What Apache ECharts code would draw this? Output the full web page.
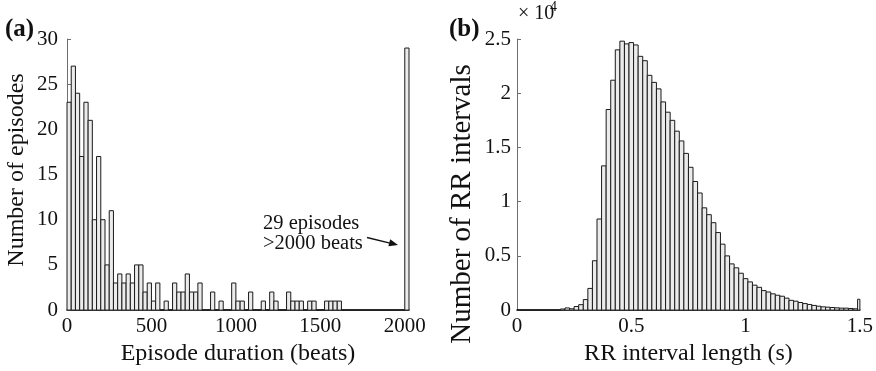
<!DOCTYPE html>
<html>
<head>
<meta charset="utf-8">
<script src="https://cdn.jsdelivr.net/npm/echarts@6/dist/echarts.min.js"></script>
<style>
  html, body { margin: 0; padding: 0; background: #fff; }
  #chart { width: 876px; height: 371px; }
</style>
</head>
<body>
<div id="chart"></div>
<script>
// (a) episode durations: 25-beat bins from 0, the last bin holds episodes >2000 beats
const durationBinWidth = 25;
const episodeCounts = [
  23, 27, 24, 17, 23, 21, 10, 17, 10, 5, 11,
  3, 4, 3, 4, 3, 5, 5,
  2, 3, 1, 3, 0, 1, 0,
  3, 2, 2, 4, 2, 2, 3,
  0, 0, 2, 0, 1, 0, 0,
  3, 1, 1, 0, 2, 0, 0,
  1, 0, 2, 1, 0, 0,
  2, 1, 1, 1, 0, 1, 1,
  0, 0,
  1, 1, 1, 1,
  0, 0, 0, 0, 0, 0, 0, 0, 0, 0, 0, 0, 0, 0, 0,
  29
];
const durationTicks = [0, 500, 1000, 1500, 2000];

// (b) RR interval lengths: 0.02 s bins centred on 0, 0.02, ..., 1.5
const rrBinWidth = 0.02;
const rrCounts = [
  0, 0, 0, 0, 0, 0, 0, 0, 0, 0,
  100, 200, 120, 330, 500, 970, 2000, 4550, 8400, 13300,
  18500, 21200, 24000, 24800, 24550, 24670, 24450, 23400, 23000, 21650,
  21000, 20400, 19200, 18250, 17500, 16500, 15600, 14450, 13170, 11860,
  10800, 9430, 8800, 8060, 7150, 6080, 5000, 4260, 3900, 3400,
  2900, 2600, 2300, 2100, 1800, 1670, 1500, 1370, 1280, 1100,
  900, 820, 700, 600, 520, 430, 360, 300, 270, 240,
  210, 180, 180, 150, 120, 1000
];
const rrTicks = [0, 0.5, 1, 1.5];

const FONT = '"Liberation Serif", "DejaVu Serif", serif';
const BAR_FILL = '#ebebeb';
const BAR_EDGE = '#1a1a1a';
const AXIS_COLOR = '#6e6e6e';
const TEXT = '#111';

const chart = echarts.init(document.getElementById('chart'));

// one rectangle per bin, from its left edge to left edge + bin width
function histBar(binWidth) {
  return function (params, api) {
    const x0 = api.value(0);
    const h = api.value(1);
    const pTop = api.coord([x0, h]);
    const pBot = api.coord([x0 + binWidth, 0]);
    const shape = echarts.graphic.clipRectByRect({
      x: pTop[0],
      y: pTop[1],
      width: pBot[0] - pTop[0],
      height: pBot[1] - pTop[1],
    }, params.coordSys);
    if (!shape) return null;
    return {
      type: 'rect',
      shape: shape,
      style: { fill: BAR_FILL, stroke: BAR_EDGE, lineWidth: 1 },
    };
  };
}

const nameStyle = { fontFamily: FONT, fontSize: 24, color: TEXT };
const tickFont = { fontFamily: FONT, fontSize: 21, color: TEXT };

const xCommon = {
  type: 'value',
  nameLocation: 'middle',
  nameGap: 27,
  nameTextStyle: nameStyle,
  axisLine: { show: true, lineStyle: { color: '#111', width: 1.6 } },
  axisTick: { show: false },
  splitLine: { show: false },
};
const yCommon = {
  type: 'value',
  axisLine: { show: true, lineStyle: { color: AXIS_COLOR, width: 1 } },
  axisTick: { show: true, inside: true, length: 4, lineStyle: { color: AXIS_COLOR } },
  splitLine: { show: false },
};

// rotated y titles, placed as in the source figure
function yTitle(text, x, y, size) {
  return {
    type: 'text',
    x: x,
    y: y,
    rotation: Math.PI / 2,
    style: {
      text: text,
      font: size + 'px ' + FONT,
      fill: TEXT,
      align: 'center',
      verticalAlign: 'middle',
    },
  };
}

chart.setOption({
  animation: false,
  backgroundColor: '#fff',
  grid: [
    { left: 67, top: 39, width: 342, height: 274 },
    { left: 517, top: 39, width: 345, height: 274 },
  ],
  xAxis: [
    {
      ...xCommon,
      gridIndex: 0,
      min: 0,
      max: 2025,
      interval: 500,
      name: 'Episode duration (beats)',
      axisLabel: {
        ...tickFont, margin: 6,
        formatter: v => (durationTicks.includes(v) ? String(v) : ''),
      },
    },
    {
      ...xCommon,
      gridIndex: 1,
      min: 0,
      max: 1.5,
      interval: 0.5,
      name: 'RR interval length (s)',
      axisLabel: {
        ...tickFont, margin: 6,
        formatter: v => (rrTicks.includes(v) ? String(v) : ''),
      },
    },
  ],
  yAxis: [
    {
      ...yCommon,
      gridIndex: 0,
      min: 0,
      max: 30,
      interval: 5,
      axisLabel: { ...tickFont, margin: 9 },
    },
    {
      ...yCommon,
      gridIndex: 1,
      min: 0,
      max: 25000,
      interval: 5000,
      axisLabel: { ...tickFont, margin: 6, formatter: v => String(v / 1e4) },
    },
  ],
  series: [
    {
      type: 'custom',
      xAxisIndex: 0,
      yAxisIndex: 0,
      renderItem: histBar(durationBinWidth),
      encode: { x: 0, y: 1 },
      data: episodeCounts.map((c, i) => [i * durationBinWidth, c]),
    },
    {
      type: 'custom',
      xAxisIndex: 1,
      yAxisIndex: 1,
      renderItem: histBar(rrBinWidth),
      encode: { x: 0, y: 1 },
      data: rrCounts.map((c, i) => [i * rrBinWidth - rrBinWidth / 2, c]),
    },
  ],
  graphic: [
    yTitle('Number of episodes', 17, 170, 24),
    yTitle('Number of RR intervals', 462, 204, 29),
    {
      type: 'text', left: 5, top: 17,
      style: { text: '(a)', font: 'bold 25px ' + FONT, fill: TEXT },
    },
    {
      type: 'text', left: 449, top: 17,
      style: { text: '(b)', font: 'bold 25px ' + FONT, fill: TEXT },
    },
    {
      type: 'text', left: 518, top: 4,
      style: { text: '× 10', font: '20px ' + FONT, fill: TEXT },
    },
    {
      type: 'text', left: 550, top: 0,
      style: { text: '4', font: '14px ' + FONT, fill: TEXT },
    },
    {
      type: 'text', left: 263, top: 213,
      style: { text: '29 episodes\n>2000 beats', font: '20.5px ' + FONT, lineHeight: 20, fill: TEXT },
    },
    {
      type: 'line',
      shape: { x1: 367, y1: 237.5, x2: 391, y2: 243.3 },
      style: { stroke: TEXT, lineWidth: 1.3 },
    },
    {
      type: 'polygon',
      shape: { points: [[398, 245], [388.4, 246.3], [390.2, 239.3]] },
      style: { fill: TEXT },
    },
  ],
});
</script>
</body>
</html>
